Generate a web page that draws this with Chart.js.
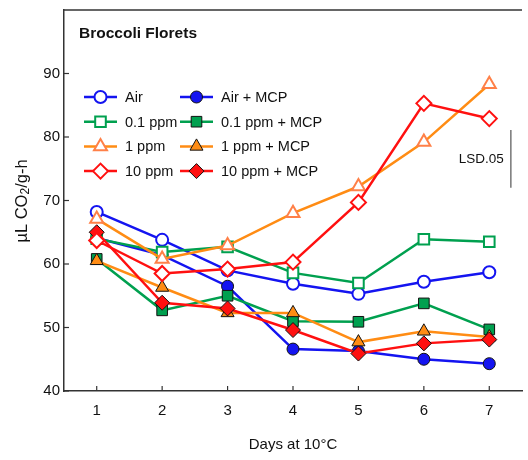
<!DOCTYPE html>
<html>
<head>
<meta charset="utf-8">
<script src="https://cdn.jsdelivr.net/npm/chart.js@4"></script>
<style>
html,body{margin:0;padding:0;background:#fff;}
#wrap{width:528px;height:460px;position:relative;}
</style>
</head>
<body>
<div id="wrap"><canvas id="c" width="528" height="460"></canvas></div>
<script>
// ---- data ----
const days = [1, 2, 3, 4, 5, 6, 7];
const yTicks = [40, 50, 60, 70, 80, 90];
const air      = [68.2, 63.8, 59.0, 56.9, 55.3, 57.2, 58.7];
const ppm01    = [64.0, 61.9, 62.7, 58.6, 57.0, 63.9, 63.5];
const ppm1     = [67.1, 60.8, 62.9, 68.0, 72.2, 79.2, 88.3];
const ppm10    = [63.7, 58.5, 59.2, 60.3, 69.7, 85.3, 82.9];
const airMcp   = [64.1, 61.4, 56.5, 46.6, 46.3, 45.0, 44.3];
const ppm01Mcp = [60.8, 52.7, 55.0, 51.0, 50.9, 53.8, 49.7];
const ppm1Mcp  = [60.5, 56.3, 52.3, 52.3, 47.7, 49.4, 48.5];
const ppm10Mcp = [65.0, 53.9, 53.0, 49.6, 45.9, 47.5, 48.1];
const seriesLabels = ['Air', '0.1 ppm', '1 ppm', '10 ppm', 'Air + MCP', '0.1 ppm + MCP', '1 ppm + MCP', '10 ppm + MCP'];
const lsdDay = [7.33];
const lsdRange = [72.0, 81.1];
const lsdLabel = 'LSD.05';
const titleText = 'Broccoli Florets';
const xTitle = 'Days at 10\u00B0C';
const yTitleParts = ['\u00B5L CO', '2', '/g-h'];

const FONT = '"Liberation Sans", Arial, Helvetica, sans-serif';
const BLUE = '#1414f0', GREEN = '#00a04f', ORANGE = '#ff8c14', LORANGE = '#ff8048', RED = '#ff1010';

function ds(label, values, line, style, radius, fill, border, bw) {
  return {
    label: label,
    data: values.map((v, i) => ({x: days[i], y: v})),
    borderColor: line,
    borderWidth: 2.5,
    pointStyle: style,
    pointRadius: radius,
    pointHoverRadius: radius,
    pointBackgroundColor: fill,
    pointBorderColor: border,
    pointBorderWidth: bw,
    fill: false,
    tension: 0
  };
}

const datasets = [
  ds(seriesLabels[3], ppm10, RED, 'rectRot', 7.5, '#ffffff', RED, 2),
  ds(seriesLabels[7], ppm10Mcp, RED, 'rectRot', 7.5, RED, '#111', 1),
  ds(seriesLabels[2], ppm1, ORANGE, 'triangle', 7.5, '#ffffff', LORANGE, 2),
  ds(seriesLabels[6], ppm1Mcp, ORANGE, 'triangle', 7.5, ORANGE, '#111', 1),
  ds(seriesLabels[1], ppm01, GREEN, 'rect', 7.5, '#ffffff', GREEN, 2),
  ds(seriesLabels[5], ppm01Mcp, GREEN, 'rect', 7.5, GREEN, '#111', 1),
  ds(seriesLabels[0], air, BLUE, 'circle', 6, '#ffffff', BLUE, 2),
  ds(seriesLabels[4], airMcp, BLUE, 'circle', 6, BLUE, '#111', 1)
];

function drawMarker(ctx, style, x, y, r) {
  ctx.beginPath();
  if (style === 'circle') {
    ctx.arc(x, y, r, 0, Math.PI * 2);
  } else if (style === 'rect') {
    const s = Math.SQRT1_2 * r;
    ctx.rect(x - s, y - s, 2 * s, 2 * s);
  } else if (style === 'rectRot') {
    ctx.moveTo(x - r, y); ctx.lineTo(x, y - r); ctx.lineTo(x + r, y); ctx.lineTo(x, y + r);
  } else if (style === 'triangle') {
    let rad = 0;
    ctx.moveTo(x + Math.sin(rad) * r, y - Math.cos(rad) * r);
    rad += 2 * Math.PI / 3;
    ctx.lineTo(x + Math.sin(rad) * r, y - Math.cos(rad) * r);
    rad += 2 * Math.PI / 3;
    ctx.lineTo(x + Math.sin(rad) * r, y - Math.cos(rad) * r);
  }
  ctx.closePath();
}

const decor = {
  id: 'decor',
  afterDraw(chart) {
    const ctx = chart.ctx;
    const ca = chart.chartArea;
    const xs = chart.scales.x, ys = chart.scales.y;
    ctx.save();
    // top border
    ctx.strokeStyle = '#333'; ctx.lineWidth = 1.5;
    ctx.beginPath(); ctx.moveTo(ca.left, ca.top); ctx.lineTo(ca.right, ca.top); ctx.stroke();
    // inward ticks
    ctx.lineWidth = 1.2;
    days.forEach(d => {
      const px = xs.getPixelForValue(d);
      ctx.beginPath(); ctx.moveTo(px, ca.bottom); ctx.lineTo(px, ca.bottom - 5); ctx.stroke();
    });
    yTicks.forEach(v => {
      const py = ys.getPixelForValue(v);
      ctx.beginPath(); ctx.moveTo(ca.left, py); ctx.lineTo(ca.left + 5, py); ctx.stroke();
    });
    // title
    ctx.fillStyle = '#111';
    ctx.font = 'bold 15.5px ' + FONT;
    ctx.textAlign = 'left'; ctx.textBaseline = 'alphabetic';
    ctx.fillText(titleText, ca.left + 15, ca.top + 28);
    // x axis title
    ctx.font = '15px ' + FONT;
    ctx.textAlign = 'center'; ctx.textBaseline = 'middle';
    ctx.fillText(xTitle, (ca.left + ca.right) / 2, 445);
    // y axis title with subscript
    ctx.save();
    ctx.translate(22, 201);
    ctx.rotate(-Math.PI / 2);
    const mainF = '16.5px ' + FONT, subF = '12px ' + FONT;
    ctx.font = mainF; const w0 = ctx.measureText(yTitleParts[0]).width;
    const w2 = ctx.measureText(yTitleParts[2]).width;
    ctx.font = subF; const w1 = ctx.measureText(yTitleParts[1]).width;
    let sx = -(w0 + w1 + w2) / 2;
    ctx.textAlign = 'left'; ctx.textBaseline = 'middle';
    ctx.font = mainF; ctx.fillText(yTitleParts[0], sx, 0); sx += w0;
    ctx.font = subF; ctx.fillText(yTitleParts[1], sx, 4); sx += w1;
    ctx.font = mainF; ctx.fillText(yTitleParts[2], sx, 0);
    ctx.restore();
    // LSD bar
    const lx = xs.getPixelForValue(lsdDay[0]);
    ctx.strokeStyle = '#555'; ctx.lineWidth = 1.2;
    ctx.beginPath();
    ctx.moveTo(lx, ys.getPixelForValue(lsdRange[0]));
    ctx.lineTo(lx, ys.getPixelForValue(lsdRange[1]));
    ctx.stroke();
    ctx.font = '13.5px ' + FONT;
    ctx.textAlign = 'right'; ctx.textBaseline = 'middle';
    ctx.fillStyle = '#111';
    ctx.fillText(lsdLabel, lx - 7, ys.getPixelForValue((lsdRange[0] + lsdRange[1]) / 2));
    // legend
    const order = [[6, 7], [4, 5], [2, 3], [0, 1]];
    const colX = [ca.left + 20, ca.left + 116];
    const rowY0 = ca.top + 87, rowH = 24.7;
    ctx.font = '14.5px ' + FONT;
    ctx.textAlign = 'left';
    order.forEach((pair, row) => {
      pair.forEach((di, col) => {
        const d = datasets[di];
        const x0 = colX[col], y0 = rowY0 + row * rowH;
        ctx.strokeStyle = d.borderColor; ctx.lineWidth = 2.5;
        ctx.beginPath(); ctx.moveTo(x0, y0); ctx.lineTo(x0 + 33, y0); ctx.stroke();
        drawMarker(ctx, d.pointStyle, x0 + 16.5, y0, d.pointRadius);
        ctx.fillStyle = d.pointBackgroundColor; ctx.fill();
        ctx.strokeStyle = d.pointBorderColor; ctx.lineWidth = d.pointBorderWidth; ctx.stroke();
        ctx.fillStyle = '#111';
        ctx.textBaseline = 'middle';
        ctx.fillText(d.label, x0 + 41, y0 + 1);
      });
    });
    ctx.restore();
  }
};

new Chart(document.getElementById('c'), {
  type: 'line',
  data: {datasets: datasets},
  options: {
    responsive: false,
    animation: false,
    events: [],
    layout: {autoPadding: false, padding: {left: 0, top: 10, right: 6, bottom: 0}},
    plugins: {legend: {display: false}, tooltip: {enabled: false}, title: {display: false}},
    scales: {
      x: {
        type: 'linear', min: 0.5, max: 7.5,
        afterBuildTicks: s => { s.ticks = days.map(v => ({value: v})); },
        afterFit: s => { s.height = 69; s.paddingLeft = 0; s.paddingRight = 0; },
        grid: {display: false, drawTicks: false},
        border: {display: true, color: '#333', width: 1.5},
        ticks: {color: '#111', font: {family: FONT, size: 15}, padding: 11, maxRotation: 0}
      },
      y: {
        type: 'linear', min: 40, max: 100,
        afterBuildTicks: s => { s.ticks = yTicks.map(v => ({value: v})); },
        afterFit: s => { s.width = 64; s.paddingTop = 0; s.paddingBottom = 0; },
        grid: {display: false, drawTicks: false},
        border: {display: true, color: '#333', width: 1.5},
        ticks: {color: '#111', font: {family: FONT, size: 15}, padding: 4}
      }
    }
  },
  plugins: [decor]
});
</script>
</body>
</html>
